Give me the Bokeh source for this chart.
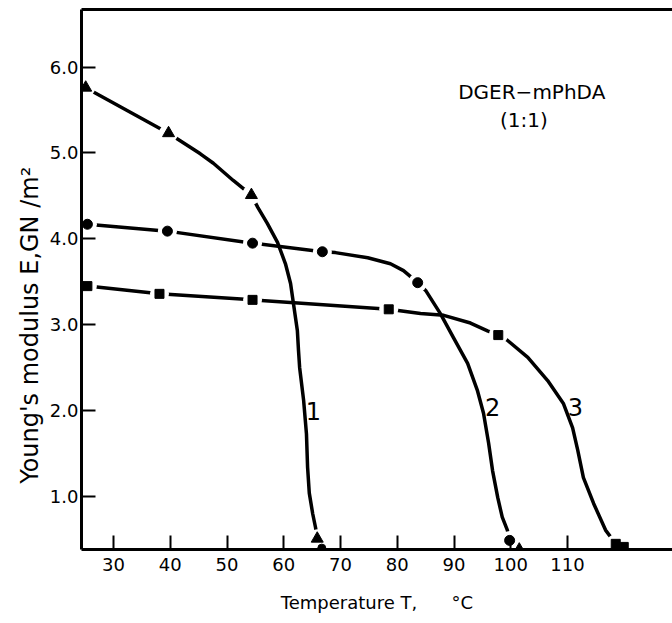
import math
from bokeh.plotting import figure
from bokeh.models import LinearAxis, FixedTicker, Label, Range1d, Title
from bokeh.embed import file_html
from bokeh.resources import INLINE

# ---------------- data ----------------
x_ticks = [30, 40, 50, 60, 70, 80, 90, 100, 110]
x_tick_labels = ["30", "40", "50", "60", "70", "80", "90", "100", "110"]
y_ticks = [1, 2, 3, 4, 5, 6]
y_tick_labels = ["1.0", "2.0", "3.0", "4.0", "5.0", "6.0"]

# curve 1 (triangles)
t1_T = [25.1, 39.7, 54.3, 65.9]
t1_E = [5.76, 5.23, 4.51, 0.51]
c1_T = [25.1, 39.7, 45.3, 47.6, 51.1, 54.3, 55.4, 57.1, 58.9, 60.3, 61.2, 61.7,
        62.4, 62.6, 62.8, 63.5, 64.0, 64.2, 64.5, 65.1, 65.6, 65.9]
c1_E = [5.76, 5.23, 4.99, 4.88, 4.68, 4.51, 4.37, 4.18, 3.96, 3.71, 3.48, 3.25,
        2.93, 2.70, 2.50, 2.12, 1.73, 1.34, 1.04, 0.80, 0.64, 0.51]

# curve 2 (circles)
t2_T = [25.4, 39.5, 54.5, 66.8, 83.6, 99.8]
t2_E = [4.17, 4.09, 3.95, 3.85, 3.49, 0.49]
c2_T = [25.4, 39.5, 54.5, 66.8, 69.1, 74.8, 78.8, 81.1, 83.6, 85.0, 87.6, 89.9,
        92.4, 94.1, 95.2, 96.1, 96.8, 97.7, 98.5, 99.4, 99.8]
c2_E = [4.17, 4.09, 3.95, 3.85, 3.84, 3.78, 3.71, 3.63, 3.49, 3.40, 3.13, 2.85,
        2.55, 2.24, 1.97, 1.62, 1.30, 0.99, 0.76, 0.61, 0.49]

# curve 3 (squares)
t3_T = [25.4, 38.1, 54.5, 78.5, 97.8, 118.5]
t3_E = [3.45, 3.36, 3.29, 3.18, 2.88, 0.45]
c3_T = [25.4, 38.1, 54.5, 78.5, 84.1, 88.2, 92.9, 95.9, 97.8, 99.4, 103.0, 106.5,
        109.3, 110.9, 111.8, 112.8, 114.6, 116.7, 118.5]
c3_E = [3.45, 3.36, 3.29, 3.18, 3.13, 3.11, 3.02, 2.93, 2.88, 2.82, 2.62, 2.35,
        2.08, 1.80, 1.54, 1.22, 0.92, 0.61, 0.45]

# partly hidden markers sitting on the T axis
axis_T = [66.7, 101.5, 120.0]
axis_E = [0.40, 0.41, 0.42]
axis_marker = ["circle", "triangle", "square"]

curve_names = ["1", "2", "3"]

FONT = "DejaVu Sans"

p = figure(width=672, height=623,
           x_range=Range1d(24.36, 128.5), y_range=Range1d(0.384, 6.67),
           output_backend="svg", toolbar_location=None,
           min_border_left=81, min_border_right=0, min_border_top=9,
           min_border_bottom=74)
p.grid.visible = False
p.outline_line_color = None
p.background_fill_color = "white"
p.border_fill_color = "white"

# lines
for xs, ys in [(c1_T, c1_E), (c2_T, c2_E), (c3_T, c3_E)]:
    p.line(xs, ys, line_color="black", line_width=3.5, line_join="round", line_cap="round")

# white halos around markers (gaps in the lines)
for xs, ys in [(t1_T, t1_E), (t2_T, t2_E), (t3_T, t3_E)]:
    p.scatter(xs, ys, marker="circle", size=19, fill_color="white", line_color=None)

p.scatter(t1_T, t1_E, marker="triangle", size=12, fill_color="black", line_color="black")
p.scatter(t2_T, t2_E, marker="circle", size=10, fill_color="black", line_color="black")
p.scatter(t3_T, t3_E, marker="square", size=9, fill_color="black", line_color="black")
p.scatter(axis_T, axis_E, marker=axis_marker, size=8, fill_color="black", line_color="black")

# axes
for ax in p.xaxis + p.yaxis:
    ax.axis_line_width = 3
    ax.axis_line_color = "black"
    ax.major_tick_line_width = 2
    ax.major_tick_in = 14
    ax.major_tick_out = 0
    ax.minor_tick_line_color = None
    ax.major_label_text_font = FONT
    ax.major_label_text_font_size = "18px"
    ax.major_label_text_color = "black"

p.xaxis.ticker = FixedTicker(ticks=x_ticks)
p.xaxis.major_label_overrides = {t: l for t, l in zip(x_ticks, x_tick_labels)}
p.xaxis.major_label_standoff = 8
p.xaxis.axis_label = "Temperature T,\u00a0\u00a0\u00a0\u00a0\u00a0\u00a0°C"
p.xaxis.axis_label_text_font = FONT
p.xaxis.axis_label_text_font_size = "18px"
p.xaxis.axis_label_text_font_style = "normal"
p.xaxis.axis_label_text_color = "black"
p.xaxis.axis_label_standoff = 18

p.yaxis.ticker = FixedTicker(ticks=y_ticks)
p.yaxis.major_label_overrides = {t: l for t, l in zip(y_ticks, y_tick_labels)}
p.yaxis.major_label_standoff = 3

top = LinearAxis(ticker=FixedTicker(ticks=[]), axis_line_width=3,
                 major_tick_line_color=None, minor_tick_line_color=None,
                 major_label_text_font_size="0px")
p.add_layout(top, "above")

# trailing no-break spaces push the rotated title down to where the reference has it
ytitle = Title(text="Young's modulus E,GN /m²" + "\u00a0" * 12, align="center",
               text_font=FONT, text_font_size="24px", text_font_style="normal",
               text_color="black", standoff=6)
p.add_layout(ytitle, "left")

# annotations
p.add_layout(Label(x=103.7, y=5.71, text="DGER\u2212mPhDA", text_font=FONT,
                   text_font_size="20px", text_align="center", text_baseline="middle",
                   text_color="black"))
p.add_layout(Label(x=102.3, y=5.38, text="(1:1)", text_font=FONT,
                   text_font_size="20px", text_align="center", text_baseline="middle",
                   text_color="black"))
for name, (lx, ly) in zip(curve_names, [(65.2, 2.0), (96.8, 2.04), (111.4, 2.04)]):
    p.add_layout(Label(x=lx, y=ly, text=name, text_font=FONT, text_font_size="24px",
                       text_align="center", text_baseline="middle", text_color="black"))

open("out.html", "w").write(file_html(p, INLINE))
